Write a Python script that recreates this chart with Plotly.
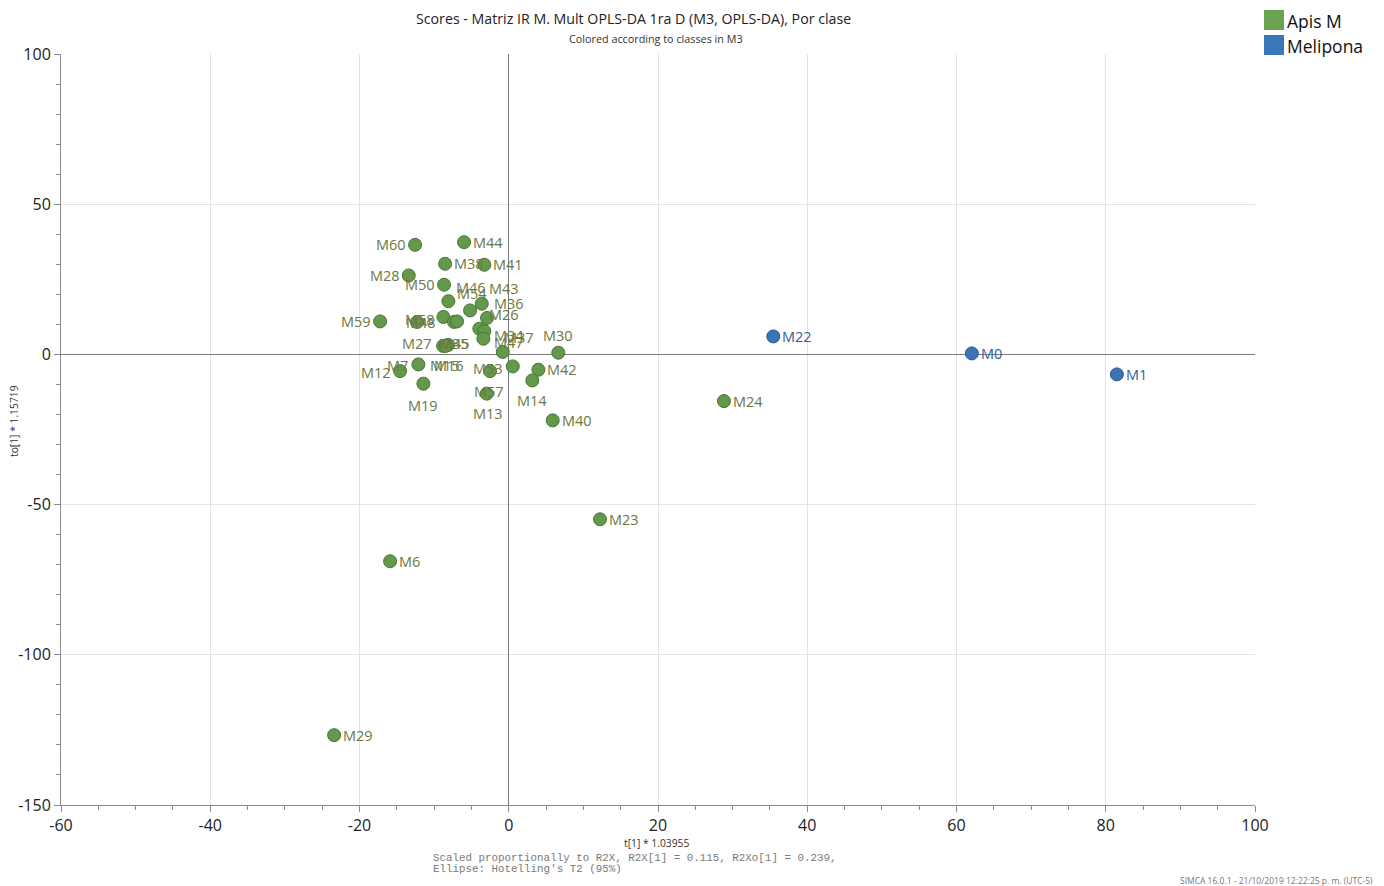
import plotly.graph_objects as go

# ---- Scores (OPLS-DA, M3): predictive t[1] vs orthogonal to[1] ----
apis_names = ["M60", "M44", "M38", "M41", "M28", "M50", "M54", "M46", "M43", "M36",
              "M26", "M34", "M47", "M37", "M30", "M59", "M58", "M48", "M45", "M35",
              "M27", "M15", "M16", "M7", "M12", "M19", "M57", "M13", "M53", "M42",
              "M14", "M40", "M24", "M23", "M6", "M29"]
apis_t = [-12.55, -5.99, -8.53, -3.27, -13.40, -8.67, -8.09, -5.18, -3.62, -2.91,
          -3.94, -3.27, -3.40, -0.80, 6.64, -17.24, -8.76, -12.28, -7.33, -6.93,
          -8.80, -8.13, -8.47, -12.11, -14.56, -11.44, -2.51, -2.95, 0.54, 3.97,
          3.16, 5.89, 28.84, 12.23, -15.90, -23.40]
apis_to = [36.49, 37.36, 30.17, 29.84, 26.28, 23.19, 17.73, 14.64, 16.87, 12.14,
           8.55, 7.75, 5.22, 0.83, 0.57, 10.98, 12.47, 10.81, 10.81, 10.98,
           2.83, 3.16, 2.83, -3.33, -5.56, -9.75, -5.56, -13.07, -3.99, -5.09,
           -8.65, -21.96, -15.54, -54.89, -68.86, -126.75]

meli_names = ["M22", "M0", "M1"]
meli_t = [35.45, 62.06, 81.49]
meli_to = [5.99, 0.33, -6.65]

class_names = ["Apis M", "Melipona"]

x_tick_vals = [-60, -40, -20, 0, 20, 40, 60, 80, 100]
x_tick_text = ["-60", "-40", "-20", "0", "20", "40", "60", "80", "100"]
y_tick_vals = [-150, -100, -50, 0, 50, 100]
y_tick_text = ["-150", "-100", "-50", "0", "50", "100"]

# ---- styling ----
FONT = "Open Sans, Noto Sans, sans-serif"
MONO = "Liberation Mono, DejaVu Sans Mono, monospace"
GREEN_FILL, GREEN_EDGE, GREEN_TEXT, GREEN_KEY = "#64984a", "#4a7535", "#6b7842", "#6aa24f"
BLUE_FILL, BLUE_EDGE, BLUE_TEXT, BLUE_KEY = "#3a74b5", "#2a5a90", "#33609a", "#3a76b8"

W, H = 1384, 886
M_L, M_R, M_T, M_B = 61, 129, 54, 81
PW, PH = W - M_L - M_R, H - M_T - M_B


def paper(px, py):
    """Pixel position on the page -> paper coordinates."""
    return (px - M_L) / PW, (H - M_B - py) / PH


# label placement around each marker: (xanchor, dx px, dy px downward)
DEFAULT_PLACE = ("left", 8, 0)
PLACE = {
    "M60": ("right", -8, 0), "M28": ("right", -8, 0), "M50": ("right", -8, 0),
    "M59": ("right", -8, 0), "M12": ("right", -8, 1), "M7": ("right", -9, 1),
    "M27": ("right", -10, -2), "M53": ("right", -9, 2), "M58": ("right", -7, 2.5),
    "M48": ("center", 4, 0.5),
    "M45": ("center", 1, 21.5), "M35": ("center", -3, 22),
    "M15": ("center", -3, 20.5), "M16": ("center", 3, 19.5),
    "M19": ("center", 0, 22), "M57": ("center", -1, 20), "M13": ("center", 1, 20),
    "M14": ("center", 0, 20),
    "M54": ("left", 8, -8), "M46": ("left", -15, -23), "M43": ("left", 6, -15),
    "M36": ("left", 6, -14.5), "M26": ("left", 9, -14), "M34": ("left", 9, 4),
    "M47": ("left", 10, 4), "M37": ("left", 0, -14.5), "M30": ("center", 0, -17),
}

fig = go.Figure()

for names, xs, ys, fill, edge, label in [
    (apis_names, apis_t, apis_to, GREEN_FILL, GREEN_EDGE, class_names[0]),
    (meli_names, meli_t, meli_to, BLUE_FILL, BLUE_EDGE, class_names[1]),
]:
    fig.add_trace(go.Scatter(
        x=xs, y=ys, mode="markers", name=label, text=names,
        marker=dict(size=13, color=fill, line=dict(color=edge, width=1)),
        hovertemplate="%{text}<br>t=%{x:.2f}<br>to=%{y:.2f}<extra></extra>",
        showlegend=False,
    ))

for names, xs, ys, color in [
    (apis_names, apis_t, apis_to, GREEN_TEXT),
    (meli_names, meli_t, meli_to, BLUE_TEXT),
]:
    for n, xv, yv in zip(names, xs, ys):
        anchor, dx, dy = PLACE.get(n, DEFAULT_PLACE)
        fig.add_annotation(
            x=xv, y=yv, text=n, showarrow=False, xanchor=anchor, yanchor="middle",
            xshift=dx, yshift=-dy, borderpad=0,
            font=dict(family=FONT, size=14.5, color=color),
        )

# titles and notes
texts = [
    (633.5, 18, "Scores - Matriz IR M. Mult OPLS-DA 1ra D (M3, OPLS-DA), Por clase", 14.2, "#222", "center", FONT, 0),
    (656, 38, "Colored according to classes in M3", 10.8, "#333", "center", FONT, 0),
    (656, 843, "t[1] * 1.03955", 10.3, "#333", "center", FONT, 0),
    (14, 421, "to[1] * 1.15719", 10.3, "#333", "center", FONT, -90),
    (432, 858, "Scaled proportionally to R2X, R2X[1] = 0.115, R2Xo[1] = 0.239,", 10.85, "#7a7a7a", "left", MONO, 0),
    (432, 869, "Ellipse: Hotelling's T2 (95%)", 10.85, "#7a7a7a", "left", MONO, 0),
    (1374, 881, "SIMCA 16.0.1 - 21/10/2019 12:22:25 p. m. (UTC-5)", 8.5, "#777", "right", FONT, 0),
]
for px, py, t, size, color, anchor, fam, ang in texts:
    xp, yp = paper(px, py)
    fig.add_annotation(
        x=xp, y=yp, xref="paper", yref="paper", text=t, showarrow=False,
        xanchor=anchor, yanchor="middle", textangle=ang, borderpad=0,
        font=dict(family=fam, size=size, color=color),
    )

# class key
for i, (label, key) in enumerate(zip(class_names, [GREEN_KEY, BLUE_KEY])):
    top = 10 + 25 * i
    x0, y0 = paper(1264, top + 20)
    x1, y1 = paper(1284, top)
    fig.add_shape(type="rect", xref="paper", yref="paper", x0=x0, y0=y0, x1=x1, y1=y1,
                  fillcolor=key, line=dict(width=0))
    xt, yt = paper(1286, top + 11)
    fig.add_annotation(x=xt, y=yt, xref="paper", yref="paper", text=label, showarrow=False,
                       xanchor="left", yanchor="middle", borderpad=0,
                       font=dict(family=FONT, size=17.5, color="#111"))

axis_common = dict(
    showline=True, linecolor="#8c8c8c", linewidth=1,
    ticks="outside", ticklen=6, tickcolor="#8c8c8c",
    showgrid=True, gridcolor="#e3e3e3", gridwidth=1,
    zeroline=True, zerolinecolor="#7a7a7a", zerolinewidth=1,
    tickfont=dict(family=FONT, size=16, color="#222"),
    automargin=False, mirror=False,
)

fig.update_xaxes(range=[-60, 100], tickvals=x_tick_vals, ticktext=x_tick_text,
                 minor=dict(dtick=5, ticks="outside", ticklen=4, tickcolor="#8c8c8c", showgrid=False),
                 **axis_common)
fig.update_yaxes(range=[-150, 100], tickvals=y_tick_vals, ticktext=y_tick_text,
                 minor=dict(dtick=10, ticks="outside", ticklen=4, tickcolor="#8c8c8c", showgrid=False),
                 **axis_common)

fig.update_layout(
    width=W, height=H,
    margin=dict(l=M_L, r=M_R, t=M_T, b=M_B, pad=0),
    paper_bgcolor="white", plot_bgcolor="white",
    showlegend=False,
    font=dict(family=FONT),
)

fig.write_html("out.html")
